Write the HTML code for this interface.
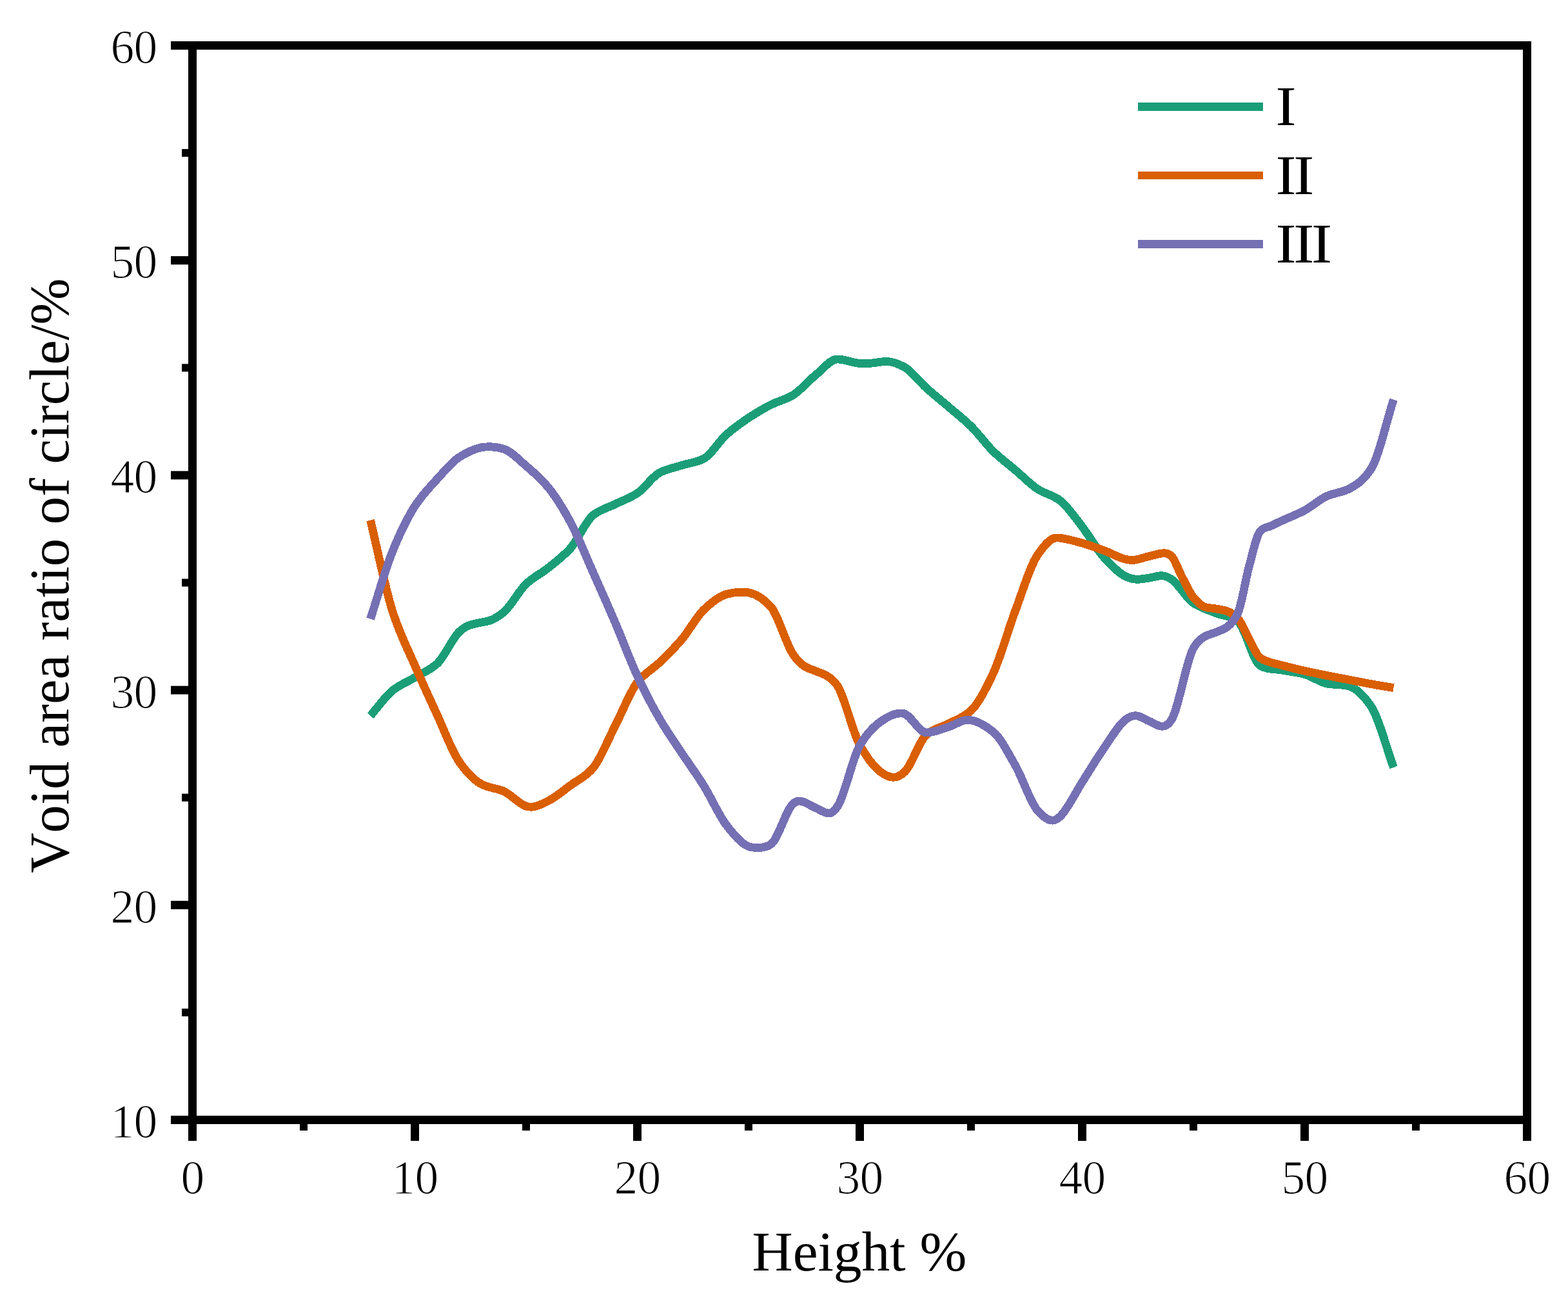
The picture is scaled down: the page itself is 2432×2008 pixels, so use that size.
<!DOCTYPE html>
<html lang="en">
<head>
<meta charset="utf-8">
<title>Void area ratio of circle vs Height</title>
<style>
html,body{margin:0;padding:0;background:#fff;}
body{width:2432px;height:2008px;overflow:hidden;}
svg{display:block;}
.tk{font-family:"Liberation Serif","DejaVu Serif",serif;font-size:73.5px;fill:#000;stroke:#fff;stroke-width:1.2px;paint-order:fill stroke;stroke-linejoin:round;letter-spacing:-0.75px;}
.lg{letter-spacing:-4px;}
.yl{font-kerning:none;}
.lb{font-family:"Liberation Serif","DejaVu Serif",serif;font-size:87.5px;fill:#000;}
</style>
</head>
<body>
<svg width="2432" height="2008" viewBox="0 0 2432 2008">
<rect x="0" y="0" width="2432" height="2008" fill="#fff"/>
<rect x="298.5" y="70.5" width="2070.0" height="1666.0" fill="none" stroke="#000" stroke-width="13"/>
<rect x="292.0" y="1742.0" width="13" height="27" fill="#000"/>
<rect x="465.0" y="1742.0" width="12" height="11" fill="#000"/>
<rect x="637.0" y="1742.0" width="13" height="27" fill="#000"/>
<rect x="810.0" y="1742.0" width="12" height="11" fill="#000"/>
<rect x="982.0" y="1742.0" width="13" height="27" fill="#000"/>
<rect x="1155.0" y="1742.0" width="12" height="11" fill="#000"/>
<rect x="1327.0" y="1742.0" width="13" height="27" fill="#000"/>
<rect x="1500.0" y="1742.0" width="12" height="11" fill="#000"/>
<rect x="1672.0" y="1742.0" width="13" height="27" fill="#000"/>
<rect x="1845.0" y="1742.0" width="12" height="11" fill="#000"/>
<rect x="2017.0" y="1742.0" width="13" height="27" fill="#000"/>
<rect x="2190.0" y="1742.0" width="12" height="11" fill="#000"/>
<rect x="2362.0" y="1742.0" width="13" height="27" fill="#000"/>
<rect x="265.0" y="1730.0" width="28" height="13" fill="#000"/>
<rect x="282.0" y="1563.9" width="11" height="12" fill="#000"/>
<rect x="265.0" y="1396.8" width="28" height="13" fill="#000"/>
<rect x="282.0" y="1230.7" width="11" height="12" fill="#000"/>
<rect x="265.0" y="1063.6" width="28" height="13" fill="#000"/>
<rect x="282.0" y="897.5" width="11" height="12" fill="#000"/>
<rect x="265.0" y="730.4" width="28" height="13" fill="#000"/>
<rect x="282.0" y="564.3" width="11" height="12" fill="#000"/>
<rect x="265.0" y="397.20000000000005" width="28" height="13" fill="#000"/>
<rect x="282.0" y="231.0999999999999" width="11" height="12" fill="#000"/>
<rect x="265.0" y="64.0" width="28" height="13" fill="#000"/>
<text class="tk" x="298.5" y="1851" text-anchor="middle">0</text>
<text class="tk" x="643.5" y="1851" text-anchor="middle">10</text>
<text class="tk" x="988.5" y="1851" text-anchor="middle">20</text>
<text class="tk" x="1333.5" y="1851" text-anchor="middle">30</text>
<text class="tk" x="1678.5" y="1851" text-anchor="middle">40</text>
<text class="tk" x="2023.5" y="1851" text-anchor="middle">50</text>
<text class="tk" x="2368.5" y="1851" text-anchor="middle">60</text>
<text class="tk" x="243.5" y="1764.0" text-anchor="end">10</text>
<text class="tk" x="243.5" y="1430.8" text-anchor="end">20</text>
<text class="tk" x="243.5" y="1097.6" text-anchor="end">30</text>
<text class="tk" x="243.5" y="764.4" text-anchor="end">40</text>
<text class="tk" x="243.5" y="431.20000000000005" text-anchor="end">50</text>
<text class="tk" x="243.5" y="98.0" text-anchor="end">60</text>
<text class="lb" x="1333" y="1969.5" text-anchor="middle">Height %</text>
<text class="lb yl" transform="translate(106,892.6) rotate(-90) scale(0.989,1)" text-anchor="middle">Void area ratio of circle/%</text>
<rect x="1765" y="159.0" width="194" height="13" fill="#1B9E77"/>
<text class="lb lg" transform="translate(1978.6,194.3) scale(1.1,1)">I</text>
<rect x="1765" y="266" width="194" height="12" fill="#D95F02"/>
<text class="lb lg" transform="translate(1978.6,300.8) scale(1.1,1)">II</text>
<rect x="1765" y="372.0" width="194" height="13" fill="#7570B3"/>
<text class="lb lg" transform="translate(1978.6,407.3) scale(1.1,1)">III</text>
<path d="M574.5,1109.9 C586.0,1096.8 597.5,1079.8 609.0,1070.6 C620.5,1061.4 632.0,1057.3 643.5,1050.4 C655.0,1043.5 666.5,1039.6 678.0,1029.1 C689.5,1018.6 701.0,990.5 712.5,979.5 C717.4,974.8 722.4,971.7 727.3,969.8 C733.9,967.3 740.4,966.6 747.0,965.0 C751.5,963.9 756.0,963.5 760.5,961.9 C767.5,959.3 774.5,955.2 781.5,949.1 C793.0,939.2 804.5,916.4 816.0,905.5 C827.5,894.6 839.0,889.6 850.5,880.4 C862.0,871.2 873.5,862.9 885.0,850.0 C896.5,837.1 908.0,808.7 919.5,799.2 C931.0,789.7 942.5,787.5 954.0,781.8 C965.5,776.1 977.0,772.4 988.5,764.8 C1000.0,757.2 1011.5,739.1 1023.0,733.0 C1034.5,726.9 1046.0,725.2 1057.5,721.5 C1069.0,717.8 1080.5,717.2 1092.0,711.0 C1103.5,704.8 1115.0,684.3 1126.5,674.0 C1138.0,663.7 1149.5,655.7 1161.0,648.1 C1172.5,640.5 1184.0,633.5 1195.5,627.7 C1207.0,621.9 1218.5,619.7 1230.0,612.7 C1241.5,605.7 1253.0,591.3 1264.5,582.1 C1276.0,572.9 1287.5,557.0 1299.0,557.0 C1310.5,557.0 1322.0,562.5 1333.5,563.5 C1336.3,563.7 1339.0,563.8 1341.8,563.8 C1350.5,563.8 1359.3,561.9 1368.0,561.0 C1370.2,560.8 1372.4,560.4 1374.6,560.4 C1383.9,560.4 1393.2,564.2 1402.5,569.0 C1414.0,575.0 1425.5,591.5 1437.0,601.8 C1448.5,612.1 1460.0,621.2 1471.5,631.0 C1483.0,640.8 1494.5,649.6 1506.0,660.9 C1517.5,672.2 1529.0,688.6 1540.5,699.8 C1552.0,711.0 1563.5,719.3 1575.0,729.1 C1586.5,738.9 1598.0,750.9 1609.5,758.4 C1621.0,765.9 1632.5,767.3 1644.0,775.9 C1655.5,784.5 1667.0,801.9 1678.5,816.7 C1690.0,831.5 1701.5,852.7 1713.0,865.1 C1724.5,877.5 1736.0,889.6 1747.5,894.6 C1752.9,896.9 1758.3,898.3 1763.7,898.3 C1769.8,898.3 1775.9,897.1 1782.0,896.2 C1788.6,895.3 1795.1,892.7 1801.7,892.7 C1806.6,892.7 1811.6,894.9 1816.5,897.9 C1828.0,904.8 1839.5,927.3 1851.0,935.0 C1862.5,942.7 1874.0,945.8 1885.5,950.5 C1897.0,955.2 1908.5,954.4 1920.0,963.6 C1931.5,972.8 1943.0,1025.2 1954.5,1032.0 C1966.0,1038.8 1977.5,1037.0 1989.0,1039.2 C2000.5,1041.4 2012.0,1042.4 2023.5,1045.5 C2035.0,1048.6 2046.5,1057.6 2058.0,1060.0 C2069.5,1062.4 2081.0,1060.5 2092.5,1064.0 C2104.0,1067.5 2115.5,1078.6 2127.0,1096.0 C2138.5,1113.4 2150.0,1158.6 2161.5,1189.9" fill="none" stroke="#1B9E77" stroke-width="12.8" stroke-linejoin="round" stroke-linecap="butt" shape-rendering="crispEdges"/>
<path d="M574.5,806.6 C586.0,853.9 597.5,912.7 609.0,948.5 C620.5,984.3 632.0,1005.4 643.5,1032.0 C655.0,1058.6 666.5,1083.5 678.0,1108.4 C689.5,1133.3 701.0,1165.2 712.5,1181.5 C724.0,1197.8 735.5,1209.8 747.0,1216.0 C758.5,1222.2 770.0,1221.8 781.5,1227.0 C793.0,1232.2 804.5,1246.4 816.0,1250.1 C818.8,1251.0 821.5,1251.3 824.3,1251.3 C833.0,1251.3 841.8,1246.1 850.5,1241.8 C862.0,1236.1 873.5,1226.0 885.0,1217.6 C896.5,1209.2 908.0,1204.7 919.5,1191.4 C931.0,1178.1 942.5,1148.0 954.0,1125.8 C965.5,1103.6 977.0,1072.8 988.5,1058.0 C1000.0,1043.2 1011.5,1038.3 1023.0,1027.2 C1034.5,1016.1 1046.0,1004.9 1057.5,991.4 C1069.0,977.9 1080.5,955.8 1092.0,945.0 C1103.5,934.2 1115.0,924.9 1126.5,921.5 C1134.1,919.3 1141.7,918.3 1149.3,918.3 C1153.2,918.3 1157.1,918.0 1161.0,918.8 C1172.5,921.0 1184.0,928.1 1195.5,940.8 C1207.0,953.5 1218.5,997.4 1230.0,1014.5 C1235.8,1023.0 1241.5,1028.9 1247.2,1032.7 C1253.0,1036.5 1258.8,1037.9 1264.5,1040.4 C1270.2,1042.9 1276.0,1044.1 1281.8,1047.5 C1287.5,1050.9 1293.2,1054.7 1299.0,1063.5 C1310.5,1081.2 1322.0,1134.5 1333.5,1155.0 C1345.0,1175.5 1356.5,1190.8 1368.0,1198.5 C1374.0,1202.5 1380.0,1205.3 1385.9,1205.3 C1391.5,1205.3 1397.0,1202.3 1402.5,1197.5 C1414.0,1187.5 1425.5,1148.9 1437.0,1139.0 C1448.5,1129.1 1460.0,1128.1 1471.5,1122.0 C1483.0,1115.9 1494.5,1112.8 1506.0,1102.0 C1517.5,1091.2 1529.0,1068.8 1540.5,1044.0 C1552.0,1019.2 1563.5,977.0 1575.0,946.4 C1586.5,915.8 1598.0,876.8 1609.5,860.2 C1619.3,846.1 1629.0,833.9 1638.8,833.9 C1640.5,833.9 1642.3,834.0 1644.0,834.2 C1655.5,835.6 1667.0,838.9 1678.5,842.1 C1690.0,845.3 1701.5,849.7 1713.0,853.9 C1724.5,858.1 1736.0,865.5 1747.5,867.6 C1750.7,868.2 1753.9,868.4 1757.2,868.4 C1765.4,868.4 1773.7,864.4 1782.0,862.6 C1790.0,860.8 1798.1,857.7 1806.2,857.7 C1809.6,857.7 1813.0,858.9 1816.5,861.8 C1822.2,866.7 1828.0,884.8 1833.8,895.5 C1839.5,906.2 1845.2,919.3 1851.0,926.2 C1856.8,933.1 1862.5,939.0 1868.2,941.0 C1874.0,943.0 1879.8,942.8 1885.5,943.9 C1891.2,945.0 1897.0,945.5 1902.8,947.5 C1908.5,949.5 1914.2,952.9 1920.0,959.0 C1925.8,965.1 1931.5,980.5 1937.2,990.7 C1943.0,1000.9 1948.8,1016.3 1954.5,1020.1 C1966.0,1027.8 1977.5,1028.5 1989.0,1031.8 C2000.5,1035.1 2012.0,1037.7 2023.5,1040.3 C2035.0,1042.9 2046.5,1045.2 2058.0,1047.5 C2069.5,1049.8 2081.0,1051.9 2092.5,1054.1 C2104.0,1056.3 2115.5,1058.6 2127.0,1060.7 C2138.5,1062.8 2150.0,1064.6 2161.5,1066.6" fill="none" stroke="#D95F02" stroke-width="12.8" stroke-linejoin="round" stroke-linecap="butt" shape-rendering="crispEdges"/>
<path d="M574.5,959.8 C586.0,924.7 597.5,882.9 609.0,854.6 C620.5,826.3 632.0,802.6 643.5,784.8 C655.0,767.0 666.5,755.5 678.0,742.9 C689.5,730.3 701.0,716.1 712.5,708.8 C724.0,701.5 735.5,695.9 747.0,693.7 C750.8,693.0 754.6,692.8 758.4,692.8 C766.1,692.8 773.8,693.8 781.5,696.3 C793.0,700.0 804.5,712.6 816.0,722.4 C827.5,732.2 839.0,742.0 850.5,756.0 C862.0,770.0 873.5,788.7 885.0,810.0 C896.5,831.3 908.0,860.7 919.5,886.5 C931.0,912.3 942.5,938.1 954.0,965.0 C965.5,991.9 977.0,1023.3 988.5,1048.0 C1000.0,1072.7 1011.5,1094.7 1023.0,1114.5 C1034.5,1134.3 1046.0,1150.2 1057.5,1167.6 C1069.0,1185.0 1080.5,1200.5 1092.0,1219.0 C1103.5,1237.5 1115.0,1264.5 1126.5,1279.2 C1138.0,1293.9 1149.5,1308.1 1161.0,1312.5 C1165.6,1314.2 1170.2,1314.5 1174.8,1314.5 C1181.7,1314.5 1188.6,1313.9 1195.5,1309.3 C1207.0,1301.7 1218.5,1256.9 1230.0,1246.4 C1233.2,1243.5 1236.4,1242.0 1239.7,1242.0 C1247.9,1242.0 1256.2,1249.0 1264.5,1252.4 C1271.6,1255.3 1278.8,1261.1 1285.9,1261.1 C1290.3,1261.1 1294.6,1256.9 1299.0,1250.5 C1310.5,1233.6 1322.0,1175.4 1333.5,1156.0 C1345.0,1136.6 1356.5,1125.0 1368.0,1117.4 C1377.2,1111.4 1386.4,1106.0 1395.6,1106.0 C1397.9,1106.0 1400.2,1106.0 1402.5,1106.7 C1414.0,1110.4 1425.5,1136.0 1437.0,1136.0 C1448.5,1136.0 1460.0,1130.5 1471.5,1127.0 C1481.3,1124.0 1491.0,1116.3 1500.8,1116.3 C1514.0,1116.3 1527.3,1124.3 1540.5,1134.8 C1552.0,1143.9 1563.5,1167.2 1575.0,1187.3 C1586.5,1207.4 1598.0,1244.2 1609.5,1257.1 C1617.1,1265.6 1624.7,1272.2 1632.3,1272.2 C1636.2,1272.2 1640.1,1269.7 1644.0,1266.2 C1655.5,1256.0 1667.0,1230.7 1678.5,1212.8 C1690.0,1194.9 1701.5,1175.3 1713.0,1159.0 C1724.5,1142.7 1736.0,1122.1 1747.5,1114.5 C1752.1,1111.5 1756.7,1109.7 1761.3,1109.7 C1768.2,1109.7 1775.1,1115.2 1782.0,1118.0 C1788.9,1120.8 1795.8,1126.3 1802.7,1126.3 C1807.3,1126.3 1811.9,1123.8 1816.5,1117.0 C1828.0,1100.1 1839.5,1025.6 1851.0,1005.0 C1856.8,994.7 1862.5,990.6 1868.2,987.1 C1874.0,983.6 1879.8,982.9 1885.5,980.5 C1891.2,978.1 1897.0,976.8 1902.8,972.6 C1908.5,968.4 1914.2,963.1 1920.0,950.5 C1925.8,937.9 1931.5,899.9 1937.2,879.0 C1943.0,858.1 1948.8,830.2 1954.5,823.6 C1960.2,817.0 1966.0,818.0 1971.8,815.3 C1977.5,812.6 1983.2,809.8 1989.0,807.1 C2000.5,801.8 2012.0,797.6 2023.5,791.4 C2035.0,785.2 2046.5,774.5 2058.0,769.3 C2069.5,764.1 2081.0,764.0 2092.5,758.0 C2104.0,752.0 2115.5,744.6 2127.0,726.3 C2138.5,708.0 2150.0,655.2 2161.5,619.6" fill="none" stroke="#7570B3" stroke-width="12.8" stroke-linejoin="round" stroke-linecap="butt" shape-rendering="crispEdges"/>
</svg>
</body>
</html>
